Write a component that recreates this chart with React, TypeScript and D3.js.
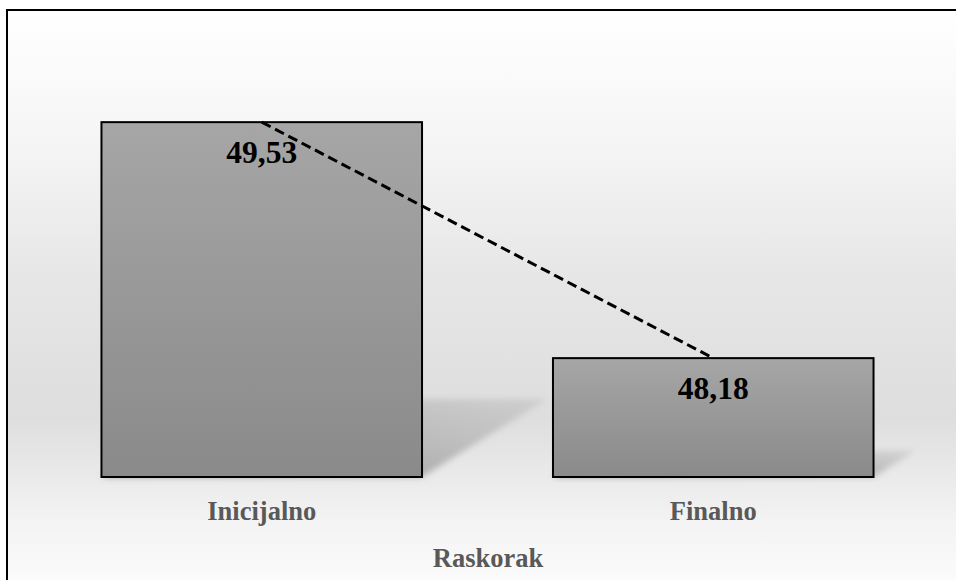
import { useEffect, useRef } from "react";
import * as d3 from "d3";

const categories = ["Inicijalno", "Finalno"];
const values = [49.53, 48.18];
const valueLabels = ["49,53", "48,18"];
const axisTitle = "Raskorak";

export default function App() {
  const svgRef = useRef<SVGSVGElement | null>(null);

  useEffect(() => {
    if (!svgRef.current) return;
    const width = 956;
    const height = 580;
    const svg = d3.select(svgRef.current);
    svg.selectAll("*").remove();

    const defs = svg.append("defs");

    // background gradient: white top, gray middle, white bottom
    const bg = defs
      .append("linearGradient")
      .attr("id", "bgGrad")
      .attr("x1", 0)
      .attr("y1", 0)
      .attr("x2", 0)
      .attr("y2", 1);
    bg.append("stop").attr("offset", "0%").attr("stop-color", "#ffffff");
    bg.append("stop").attr("offset", "20%").attr("stop-color", "#f6f6f6");
    bg.append("stop").attr("offset", "45%").attr("stop-color", "#e6e6e6");
    bg.append("stop").attr("offset", "68%").attr("stop-color", "#dedede");
    bg.append("stop").attr("offset", "85%").attr("stop-color", "#f3f3f3");
    bg.append("stop").attr("offset", "100%").attr("stop-color", "#ffffff");

    const barGrad = defs
      .append("linearGradient")
      .attr("id", "barGrad")
      .attr("x1", 0)
      .attr("y1", 0)
      .attr("x2", 0)
      .attr("y2", 1);
    barGrad.append("stop").attr("offset", "0%").attr("stop-color", "#a6a6a6");
    barGrad.append("stop").attr("offset", "100%").attr("stop-color", "#8a8a8a");

    const shadowGrad = defs
      .append("linearGradient")
      .attr("id", "shadowGrad")
      .attr("x1", 0)
      .attr("y1", 1)
      .attr("x2", 1)
      .attr("y2", 0);
    shadowGrad.append("stop").attr("offset", "0%").attr("stop-color", "#8c8c8c").attr("stop-opacity", 0.95);
    shadowGrad.append("stop").attr("offset", "100%").attr("stop-color", "#b0b0b0").attr("stop-opacity", 0.35);

    defs
      .append("filter")
      .attr("id", "blur")
      .attr("x", "-20%")
      .attr("y", "-20%")
      .attr("width", "140%")
      .attr("height", "140%")
      .append("feGaussianBlur")
      .attr("stdDeviation", 3);

    svg
      .append("rect")
      .attr("x", 7)
      .attr("y", 10)
      .attr("width", width + 20)
      .attr("height", height + 20)
      .attr("fill", "url(#bgGrad)")
      .attr("stroke", "#000")
      .attr("stroke-width", 2);

    const x = d3
      .scaleBand<string>()
      .domain(categories)
      .range([36, 939])
      .paddingInner(0.29)
      .paddingOuter(0.145);

    const y = d3.scaleLinear().domain([47.5, 50]).range([477, 40]);
    const base = y(47.5);

    // perspective shadows
    svg
      .append("g")
      .selectAll("path")
      .data(values)
      .join("path")
      .attr("d", (v, i) => {
        const x0 = x(categories[i])!;
        const x1 = x0 + x.bandwidth();
        const h = (base - y(v)) * 0.22;
        const off = h * 1.6;
        return `M${x0},${base} L${x0 + off},${base - h} L${x1 + off},${base - h} L${x1},${base} Z`;
      })
      .attr("fill", "url(#shadowGrad)")
      .attr("filter", "url(#blur)");

    svg
      .append("g")
      .selectAll("rect")
      .data(values)
      .join("rect")
      .attr("x", (_, i) => x(categories[i])!)
      .attr("y", (v) => y(v))
      .attr("width", x.bandwidth())
      .attr("height", (v) => base - y(v))
      .attr("fill", "url(#barGrad)")
      .attr("stroke", "#000")
      .attr("stroke-width", 2);

    const line = d3
      .line<number>()
      .x((_, i) => x(categories[i])! + x.bandwidth() / 2)
      .y((v) => y(v));

    svg
      .append("path")
      .datum(values)
      .attr("d", line)
      .attr("fill", "none")
      .attr("stroke", "#000")
      .attr("stroke-width", 3)
      .attr("stroke-dasharray", "10,5");

    const font = "'Liberation Serif', 'Times New Roman', serif";

    svg
      .append("g")
      .selectAll("text")
      .data(values)
      .join("text")
      .attr("x", (_, i) => x(categories[i])! + x.bandwidth() / 2)
      .attr("y", (v) => y(v) + 41)
      .attr("text-anchor", "middle")
      .attr("font-family", font)
      .attr("font-weight", "bold")
      .attr("font-size", 31.5)
      .attr("fill", "#000")
      .text((_, i) => valueLabels[i]);

    svg
      .append("g")
      .selectAll("text")
      .data(categories)
      .join("text")
      .attr("x", (c) => x(c)! + x.bandwidth() / 2)
      .attr("y", 520)
      .attr("text-anchor", "middle")
      .attr("font-family", font)
      .attr("font-weight", "bold")
      .attr("font-size", 26.5)
      .attr("fill", "#595959")
      .text((c) => c);

    svg
      .append("text")
      .attr("x", 488)
      .attr("y", 567)
      .attr("text-anchor", "middle")
      .attr("font-family", font)
      .attr("font-weight", "bold")
      .attr("font-size", 26.5)
      .attr("fill", "#595959")
      .text(axisTitle);
  }, []);

  return (
    <svg
      ref={svgRef}
      width={956}
      height={580}
      style={{ position: "absolute", top: 0, left: 0, display: "block" }}
    />
  );
}
